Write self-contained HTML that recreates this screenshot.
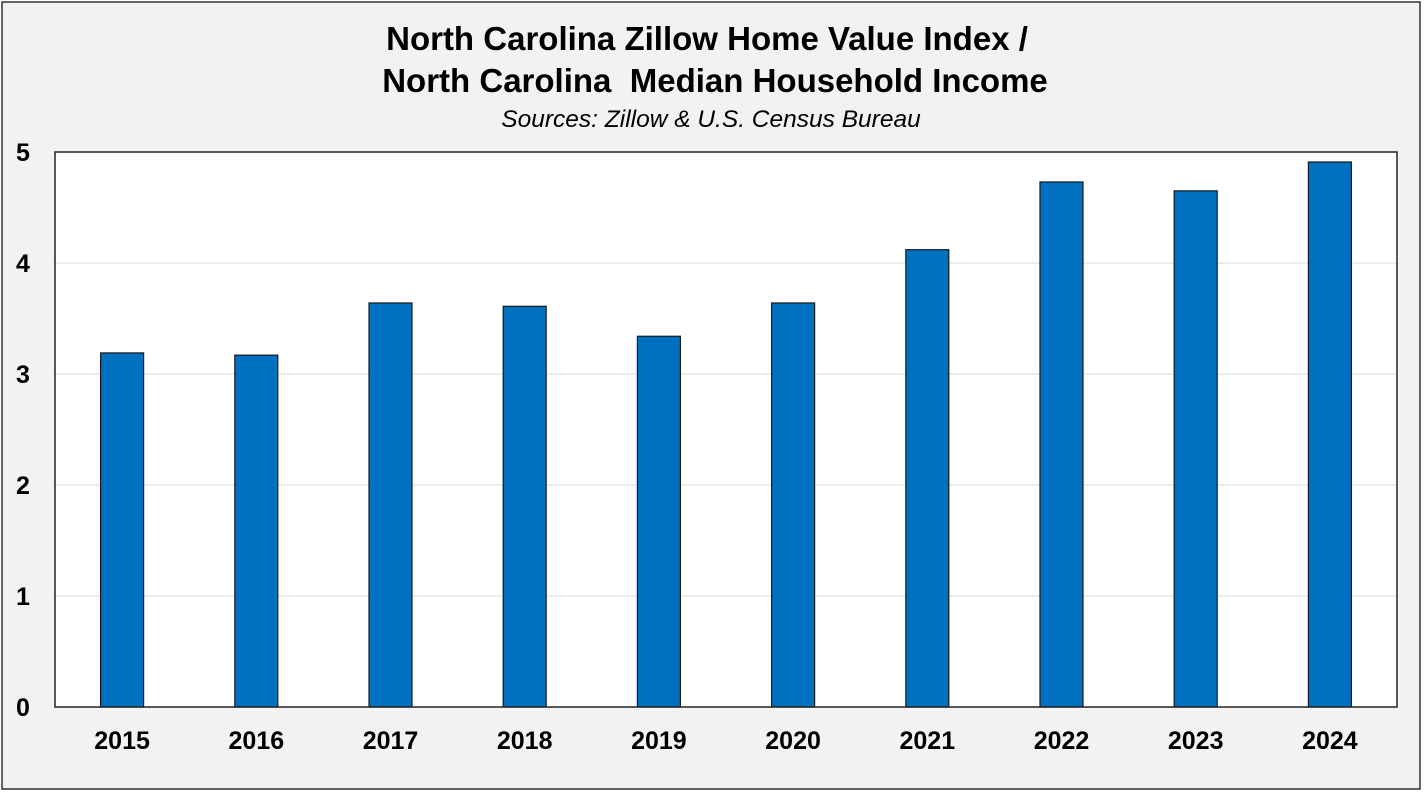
<!DOCTYPE html>
<html><head><meta charset="utf-8"><style>
html,body{margin:0;padding:0;background:#fff;}
svg{display:block;font-family:"Liberation Sans",Arial,sans-serif;}
</style></head><body>
<svg id="chart" width="1425" height="793">
<rect x="2" y="2" width="1418" height="787" fill="#f2f2f2" stroke="#333" stroke-width="1.5"/>
<text x="707" y="50" text-anchor="middle" font-size="33" font-weight="bold">North Carolina Zillow Home Value Index /</text>
<text x="715" y="92" text-anchor="middle" font-size="33" font-weight="bold">North Carolina&#160; Median Household Income</text>
<text x="711" y="127" text-anchor="middle" font-size="24.5" font-style="italic">Sources: Zillow &amp; U.S. Census Bureau</text>
<rect x="55" y="152" width="1342" height="555" fill="#fff"/>
<g id="grid"></g>
<g id="bars"></g>
<rect x="55" y="152" width="1342" height="555" fill="none" stroke="#222" stroke-width="1.5"/>
<g id="yticks"></g>
<g id="xticks"></g>
</svg>
<script>
const categories=["2015","2016","2017","2018","2019","2020","2021","2022","2023","2024"];
const values=[3.19,3.17,3.64,3.61,3.34,3.64,4.12,4.73,4.65,4.91];
const yTicks=[0,1,2,3,4,5];
const L=55,R=1397,T=152,B=707,yMax=5;
const NS="http://www.w3.org/2000/svg";
const y=v=>B-(v/yMax)*(B-T);
const band=(R-L)/categories.length;
const x=i=>L+band*(i+0.5);
const bw=43;
const grid=document.getElementById('grid'),bars=document.getElementById('bars'),yt=document.getElementById('yticks'),xt=document.getElementById('xticks');
function mk(t,a,p){const e=document.createElementNS(NS,t);for(const k in a)e.setAttribute(k,a[k]);p.appendChild(e);return e;}
yTicks.forEach(v=>{
 if(v>0&&v<yMax){const g=mk('line',{x1:L,x2:R,y1:y(v),y2:y(v),stroke:'#d9d9d9','stroke-width':1},grid);
 
 }
 const t=mk('text',{x:23,y:y(v)+9,'text-anchor':'middle','font-size':25,'font-weight':'bold'},yt);
 t.textContent=v;
 
 
});
categories.forEach((c,i)=>{
 const r=mk('rect',{x:x(i)-bw/2,y:y(values[i]),width:bw,height:B-y(values[i]),fill:'#0070c0',stroke:'#1a1a1a','stroke-width':1.2},bars);
 
 
 const t=mk('text',{x:x(i),y:749,'text-anchor':'middle','font-size':25,'font-weight':'bold'},xt);
 t.textContent=c;
 
 
});
</script>
</body></html>
